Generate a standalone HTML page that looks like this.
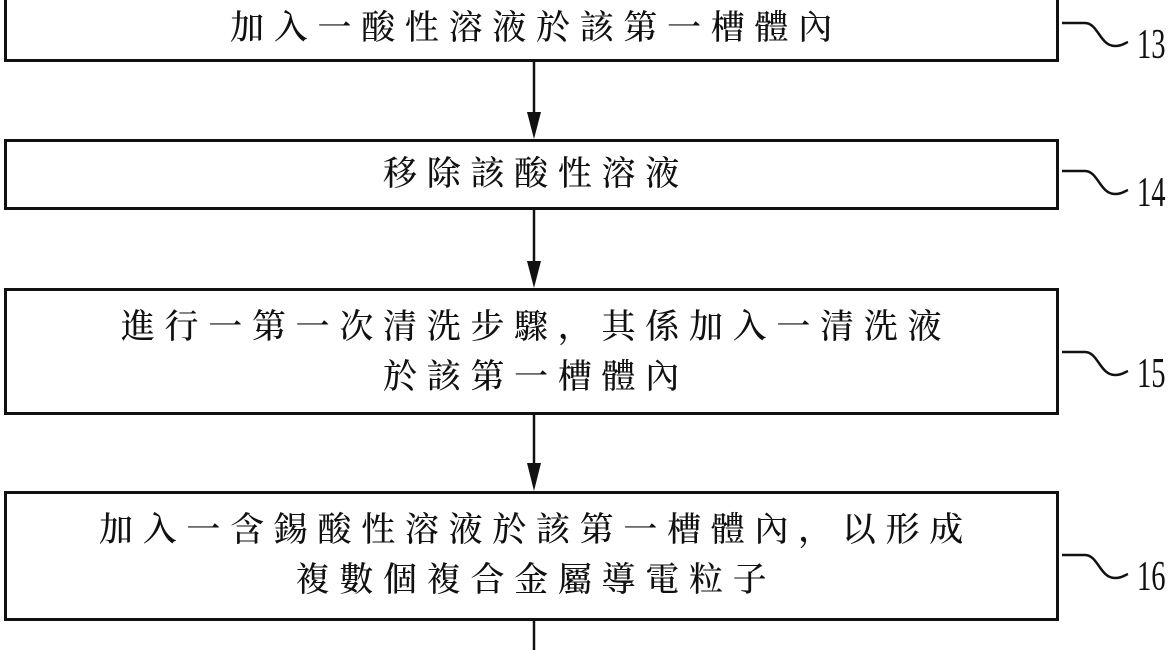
<!DOCTYPE html>
<html><head><meta charset="utf-8"><style>
body{margin:0;width:1170px;height:650px;background:#fff;position:relative;overflow:hidden;font-family:"Liberation Serif","Noto Serif CJK SC","Noto Sans CJK TC",serif;}
.b{position:absolute;left:4px;width:1055px;border:3px solid #111;box-sizing:border-box;}
.t{position:absolute;left:6px;width:1060px;text-align:center;font-size:34px;font-weight:500;letter-spacing:9.7px;color:#111;white-space:nowrap;line-height:50px;}
.n{position:absolute;left:1137px;font-size:42px;line-height:42px;color:#111;font-family:"Liberation Serif",serif;transform:scaleX(0.68);transform-origin:left;}
</style></head><body>
<div class="b" style="top:-5px;height:67px"></div>
<div class="b" style="top:139px;height:71px"></div>
<div class="b" style="top:288px;height:127px"></div>
<div class="b" style="top:491px;height:130px"></div>
<div class="t" style="top:4px">加入一酸性溶液於該第一槽體內</div>
<div class="t" style="top:150px">移除該酸性溶液</div>
<div class="t" style="top:303px">進行一第一次清洗步驟，其係加入一清洗液<br>於該第一槽體內</div>
<div class="t" style="top:506px">加入一含錫酸性溶液於該第一槽體內，以形成<br>複數個複合金屬導電粒子</div>
<svg width="1170" height="650" style="position:absolute;left:0;top:0">
<g stroke="#111" stroke-width="2.5" fill="none">
<line x1="534" y1="62" x2="534" y2="115"/>
<line x1="534" y1="210" x2="534" y2="264"/>
<line x1="534" y1="415" x2="534" y2="465"/>
<line x1="534" y1="621" x2="534" y2="650"/>
<path d="M1062 23 H1085 C1098 23 1100 46 1115 46 C1122 46 1125 43 1128 42"/>
<path d="M1062 171 H1085 C1098 171 1100 194 1115 194 C1122 194 1125 191 1128 190"/>
<path d="M1062 352 H1085 C1098 352 1100 375 1115 375 C1122 375 1125 372 1128 371"/>
<path d="M1062 555 H1085 C1098 555 1100 578 1115 578 C1122 578 1125 575 1128 574"/>
</g>
<g fill="#111">
<polygon points="527,112 541,112 534,139"/>
<polygon points="527,261 541,261 534,288"/>
<polygon points="527,463 541,463 534,491"/>
</g>
</svg>
<div class="n" style="top:24px">13</div>
<div class="n" style="top:172px">14</div>
<div class="n" style="top:353px">15</div>
<div class="n" style="top:556px">16</div>
</body></html>
